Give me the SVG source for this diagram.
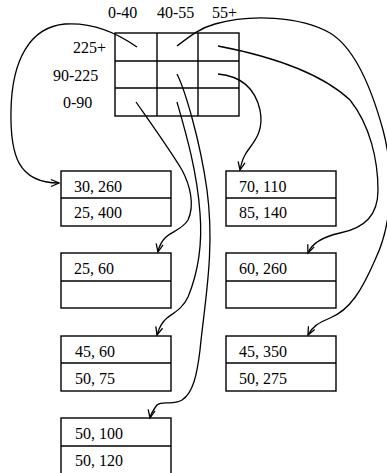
<svg xmlns="http://www.w3.org/2000/svg" width="387" height="473" viewBox="0 0 387 473">
<style>
text{font-family:"Liberation Serif","Times New Roman",serif;font-size:16px;fill:#000}
.b{fill:#fff;stroke:#000;stroke-width:1.4}
.l{stroke:#000;stroke-width:1.4;fill:none}
.c{stroke:#000;stroke-width:1.3;fill:none;marker-end:url(#arr)}
.c0{stroke:#000;stroke-width:1.3;fill:none}
</style>
<defs>
<marker id="arr" viewBox="-10 -6 12 12" refX="0" refY="0" markerWidth="12" markerHeight="12" markerUnits="userSpaceOnUse" orient="auto">
<path d="M-8,-3.5 L0,0 L-8,3.5" fill="none" stroke="#000" stroke-width="1.3"/>
</marker>
</defs>
<g id="grid">
<rect class="b" x="115" y="33" width="124" height="83"/>
<line class="l" x1="157" y1="33" x2="157" y2="116"/>
<line class="l" x1="198" y1="33" x2="198" y2="116"/>
<line class="l" x1="115" y1="61" x2="239" y2="61"/>
<line class="l" x1="115" y1="88" x2="239" y2="88"/>
<text x="108" y="18">0-40</text>
<text x="157" y="18">40-55</text>
<text x="212" y="18">55+</text>
<text x="73" y="53">225+</text>
<text x="53" y="81">90-225</text>
<text x="63" y="108">0-90</text>
</g>
<g id="b1">
<rect class="b" x="61" y="171" width="110" height="55"/>
<line class="l" x1="61" y1="198" x2="171" y2="198"/>
<text x="74" y="192">30, 260</text>
<text x="74" y="218">25, 400</text>
</g>
<g id="b2">
<rect class="b" x="61" y="253" width="110" height="55"/>
<line class="l" x1="61" y1="281" x2="171" y2="281"/>
<text x="74" y="274">25, 60</text>
</g>
<g id="b3">
<rect class="b" x="61" y="336" width="110" height="55"/>
<line class="l" x1="61" y1="363" x2="171" y2="363"/>
<text x="75" y="357">45, 60</text>
<text x="75" y="384">50, 75</text>
</g>
<g id="b4">
<rect class="b" x="61" y="418" width="110" height="56"/>
<line class="l" x1="61" y1="446" x2="171" y2="446"/>
<text x="75" y="439">50, 100</text>
<text x="75" y="466">50, 120</text>
</g>
<g id="b5">
<rect class="b" x="226" y="171" width="110" height="55"/>
<line class="l" x1="226" y1="198" x2="336" y2="198"/>
<text x="239" y="192">70, 110</text>
<text x="239" y="218">85, 140</text>
</g>
<g id="b6">
<rect class="b" x="226" y="253" width="110" height="55"/>
<line class="l" x1="226" y1="281" x2="336" y2="281"/>
<text x="239" y="274">60, 260</text>
</g>
<g id="b7">
<rect class="b" x="226" y="336" width="110" height="55"/>
<line class="l" x1="226" y1="363" x2="336" y2="363"/>
<text x="239" y="357">45, 350</text>
<text x="239" y="384">50, 275</text>
</g>
<g id="connectors">
<path class="c" d="M137,47 C120,35 95,22 65,24 C30,27 12,60 11,110 C10,155 18,183 59,183"/>
<path class="c" d="M177,46 C190,36 200,28 215,24 C250,14 300,16 330,33 C355,48 372,90 383,130 C395,175 392,225 375,260 C362,290 350,310 330,318 C318,323 312,327 308,335"/>
<path class="c" d="M218,46 C270,56 320,72 350,100 C370,125 378,160 378,190 C378,215 365,228 340,233 C322,237 312,243 308,253"/>
<path class="c" d="M218,74 C240,76 255,88 260,110 C265,135 250,145 245,155 C242,160 241,165 240,170"/>
<path class="c" d="M136,102 C150,122 170,150 182,170 C190,185 195,205 188,220 C182,230 170,232 165,238 C161,242 159,247 158,252"/>
<path class="c" d="M177,102 C185,130 197,170 200,213 C203,250 195,280 188,297 C183,308 175,312 167,318 C162,322 159,328 157,335"/>
<path class="c" d="M177,74 C185,90 200,140 207,190 C215,250 205,300 200,350 C197,375 193,393 182,400 C172,406 163,400 157,405 C154,409 151,413 150,418"/>
</g>
</svg>
